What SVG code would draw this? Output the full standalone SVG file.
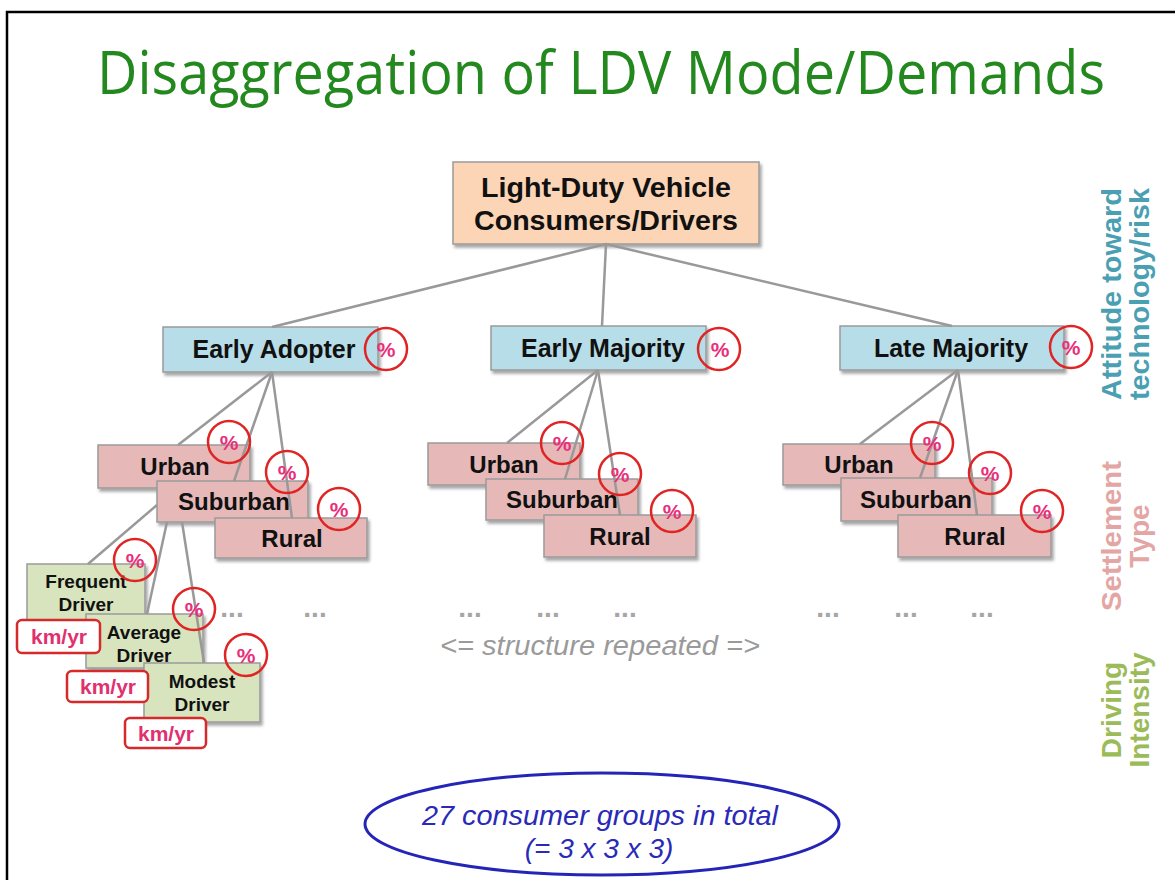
<svg xmlns="http://www.w3.org/2000/svg" width="1175" height="880" viewBox="0 0 1175 880">
  <defs>
    <filter id="shadow" x="-10%" y="-10%" width="130%" height="140%">
      <feDropShadow dx="2" dy="3" stdDeviation="1.8" flood-color="#000" flood-opacity="0.35"/>
    </filter>
  </defs>
  <style>
    .box { stroke: #9a9a9a; stroke-width: 1.5; filter: url(#shadow); }
    .top { fill: #fbd5b5; }
    .attitude { fill: #b7dee8; }
    .settle { fill: #e6b9b8; }
    .drive { fill: #d7e4bd; }
    .lbl { font-family: "Liberation Sans", Arial, sans-serif; font-weight: bold; fill: #111; text-anchor: middle; }
    .pct-ring { fill: none; stroke: #e02424; stroke-width: 2.5; }
    .pct { font-family: "Liberation Sans", Arial, sans-serif; font-size: 21px; font-weight: bold; fill: #e8307a; text-anchor: middle; }
    .km-box { fill: #fff; stroke: #d62a2a; stroke-width: 2.5; }
    .km { font-family: "Liberation Sans", Arial, sans-serif; font-weight: bold; font-size: 21px; fill: #e0306e; text-anchor: middle; }
    .link { stroke: #999; stroke-width: 2.5; fill: none; }
    .dots { font-family: "Liberation Sans", Arial, sans-serif; font-weight: bold; font-size: 28px; fill: #a6a6a6; text-anchor: middle; }
    .side { font-family: "Liberation Sans", Arial, sans-serif; font-weight: bold; font-size: 28px; text-anchor: middle; }
  </style>

  <rect width="1175" height="880" fill="#fff"/>
  <path d="M7,880 V12 H1175" fill="none" stroke="#000" stroke-width="2.5"/>

  <text id="title" x="601" y="94" font-family="'Open Sans', 'Liberation Sans', sans-serif" font-size="60" fill="#23891e" text-anchor="middle" textLength="1008" lengthAdjust="spacingAndGlyphs">Disaggregation of LDV Mode/Demands</text>

  <!-- root -->
  <g id="node-root">
    <rect class="box top" x="453" y="162" width="306" height="82"/>
    <text class="lbl" x="606" y="197" font-size="28" textLength="250" lengthAdjust="spacingAndGlyphs">Light-Duty Vehicle</text>
    <text class="lbl" x="606" y="230" font-size="28" textLength="264" lengthAdjust="spacingAndGlyphs">Consumers/Drivers</text>
  </g>

  <!-- attitude level -->
  <g id="node-early-adopter">
    <rect class="box attitude" x="163" y="327" width="215" height="45"/>
    <text class="lbl" x="274" y="358" font-size="25">Early Adopter</text>
  </g>
  <g id="node-early-majority">
    <rect class="box attitude" x="491" y="326" width="215" height="44"/>
    <text class="lbl" x="603" y="357" font-size="25">Early Majority</text>
  </g>
  <g id="node-late-majority">
    <rect class="box attitude" x="840" y="326" width="224" height="44"/>
    <text class="lbl" x="951" y="357" font-size="25">Late Majority</text>
  </g>

  <!-- settlement level: early adopter -->
  <g id="node-ea-urban">
    <rect class="box settle" x="98" y="445" width="152" height="43"/>
    <text class="lbl" x="175" y="475" font-size="24">Urban</text>
  </g>
  <g id="node-ea-suburban">
    <rect class="box settle" x="157" y="481" width="151" height="41"/>
    <text class="lbl" x="234" y="510" font-size="24">Suburban</text>
  </g>
  <g id="node-ea-rural">
    <rect class="box settle" x="215" y="518" width="152" height="40"/>
    <text class="lbl" x="292" y="547" font-size="24">Rural</text>
  </g>

  <!-- settlement level: early majority -->
  <g id="node-em-urban">
    <rect class="box settle" x="428" y="443" width="152" height="42"/>
    <text class="lbl" x="504" y="473" font-size="24">Urban</text>
  </g>
  <g id="node-em-suburban">
    <rect class="box settle" x="486" y="479" width="152" height="41"/>
    <text class="lbl" x="562" y="508" font-size="24">Suburban</text>
  </g>
  <g id="node-em-rural">
    <rect class="box settle" x="544" y="515" width="152" height="42"/>
    <text class="lbl" x="620" y="545" font-size="24">Rural</text>
  </g>

  <!-- settlement level: late majority -->
  <g id="node-lm-urban">
    <rect class="box settle" x="783" y="444" width="152" height="41"/>
    <text class="lbl" x="859" y="473" font-size="24">Urban</text>
  </g>
  <g id="node-lm-suburban">
    <rect class="box settle" x="841" y="478" width="151" height="43"/>
    <text class="lbl" x="916" y="508" font-size="24">Suburban</text>
  </g>
  <g id="node-lm-rural">
    <rect class="box settle" x="898" y="515" width="153" height="42"/>
    <text class="lbl" x="975" y="545" font-size="24">Rural</text>
  </g>

  <!-- driving intensity level -->
  <g id="node-frequent">
    <rect class="box drive" x="27" y="564" width="118" height="56"/>
    <text class="lbl" x="86" y="588" font-size="19">Frequent</text>
    <text class="lbl" x="86" y="611" font-size="19">Driver</text>
  </g>
  <g id="node-average">
    <rect class="box drive" x="86" y="614" width="117" height="54"/>
    <text class="lbl" x="144" y="639" font-size="19">Average</text>
    <text class="lbl" x="144" y="662" font-size="19">Driver</text>
  </g>
  <g id="node-modest">
    <rect class="box drive" x="144" y="663" width="116" height="59"/>
    <text class="lbl" x="202" y="688" font-size="19">Modest</text>
    <text class="lbl" x="202" y="711" font-size="19">Driver</text>
  </g>

  <!-- connectors -->
  <g id="connectors">
    <line class="link" x1="606" y1="244" x2="272" y2="327"/>
    <line class="link" x1="606" y1="244" x2="602" y2="326"/>
    <line class="link" x1="606" y1="244" x2="952" y2="326"/>

    <line class="link" x1="272" y1="372" x2="178" y2="445"/>
    <line class="link" x1="272" y1="372" x2="234" y2="481"/>
    <line class="link" x1="272" y1="372" x2="292" y2="518"/>

    <line class="link" x1="598" y1="370" x2="507" y2="443"/>
    <line class="link" x1="598" y1="370" x2="565" y2="479"/>
    <line class="link" x1="598" y1="370" x2="620" y2="515"/>

    <line class="link" x1="958" y1="370" x2="860" y2="444"/>
    <line class="link" x1="958" y1="370" x2="920" y2="478"/>
    <line class="link" x1="958" y1="370" x2="977" y2="515"/>

    <line class="link" x1="157" y1="505" x2="88" y2="564"/>
    <line class="link" x1="167" y1="522" x2="147" y2="614"/>
    <line class="link" x1="182" y1="522" x2="204" y2="663"/>
  </g>

  <!-- share markers -->
  <g id="shares">
    <circle class="pct-ring" cx="386" cy="349" r="21"/><text class="pct" x="386" y="357">%</text>
    <circle class="pct-ring" cx="719" cy="349" r="21"/><text class="pct" x="720" y="357">%</text>
    <circle class="pct-ring" cx="1071" cy="347" r="21"/><text class="pct" x="1071" y="355">%</text>

    <circle class="pct-ring" cx="229" cy="442" r="21"/><text class="pct" x="229" y="450">%</text>
    <circle class="pct-ring" cx="287" cy="472" r="21"/><text class="pct" x="287" y="480">%</text>
    <circle class="pct-ring" cx="339" cy="509" r="21"/><text class="pct" x="339" y="517">%</text>

    <circle class="pct-ring" cx="562" cy="443" r="21"/><text class="pct" x="562" y="451">%</text>
    <circle class="pct-ring" cx="620" cy="474" r="21"/><text class="pct" x="620" y="482">%</text>
    <circle class="pct-ring" cx="672" cy="511" r="21"/><text class="pct" x="672" y="519">%</text>

    <circle class="pct-ring" cx="932" cy="443" r="21"/><text class="pct" x="932" y="451">%</text>
    <circle class="pct-ring" cx="990" cy="473" r="21"/><text class="pct" x="990" y="481">%</text>
    <circle class="pct-ring" cx="1042" cy="511" r="21"/><text class="pct" x="1042" y="519">%</text>

    <circle class="pct-ring" cx="135" cy="560" r="21"/><text class="pct" x="135" y="568">%</text>
    <circle class="pct-ring" cx="194" cy="609" r="21"/><text class="pct" x="194" y="617">%</text>
    <circle class="pct-ring" cx="246" cy="655" r="21"/><text class="pct" x="246" y="663">%</text>
  </g>

  <!-- distance tags -->
  <g id="distances">
    <rect class="km-box" x="17" y="620" width="83" height="33" rx="5"/><text class="km" x="59" y="644">km/yr</text>
    <rect class="km-box" x="67" y="671" width="81" height="31" rx="5"/><text class="km" x="108" y="694">km/yr</text>
    <rect class="km-box" x="125" y="718" width="81" height="30" rx="5"/><text class="km" x="166" y="741">km/yr</text>
  </g>

  <!-- ellipsis marks -->
  <g id="repeat-marks">
    <text class="dots" x="232" y="617">...</text>
    <text class="dots" x="315" y="617">...</text>
    <text class="dots" x="470" y="617">...</text>
    <text class="dots" x="548" y="617">...</text>
    <text class="dots" x="625" y="617">...</text>
    <text class="dots" x="828" y="617">...</text>
    <text class="dots" x="906" y="617">...</text>
    <text class="dots" x="982" y="617">...</text>
    <text x="600" y="655" font-family="'Liberation Sans', Arial, sans-serif" font-style="italic" font-size="28" fill="#9a9a9a" text-anchor="middle" textLength="320" lengthAdjust="spacingAndGlyphs">&lt;= structure repeated =&gt;</text>
  </g>

  <!-- level captions -->
  <g id="level-captions">
    <g transform="rotate(-90)">
      <text class="side" x="-294" y="1121" fill="#4a9fb3" textLength="212" lengthAdjust="spacingAndGlyphs">Attitude toward</text>
      <text class="side" x="-294" y="1149" fill="#4a9fb3" textLength="212" lengthAdjust="spacingAndGlyphs">technology/risk</text>
      <text class="side" x="-536" y="1121" fill="#e3a6a5" textLength="150" lengthAdjust="spacingAndGlyphs">Settlement</text>
      <text class="side" x="-536" y="1149" fill="#e3a6a5">Type</text>
      <text class="side" x="-710" y="1121" fill="#9bbb59">Driving</text>
      <text class="side" x="-710" y="1149" fill="#9bbb59">Intensity</text>
    </g>
  </g>

  <!-- total -->
  <g id="node-total">
    <ellipse cx="602" cy="824" rx="237" ry="51" fill="none" stroke="#2424b8" stroke-width="3"/>
    <text x="600" y="825" font-family="'Liberation Sans', Arial, sans-serif" font-style="italic" font-size="28" fill="#2a2ab8" text-anchor="middle" textLength="356" lengthAdjust="spacingAndGlyphs">27 consumer groups in total</text>
    <text x="599" y="858" font-family="'Liberation Sans', Arial, sans-serif" font-style="italic" font-size="28" fill="#2a2ab8" text-anchor="middle">(= 3 x 3 x 3)</text>
  </g>
</svg>
